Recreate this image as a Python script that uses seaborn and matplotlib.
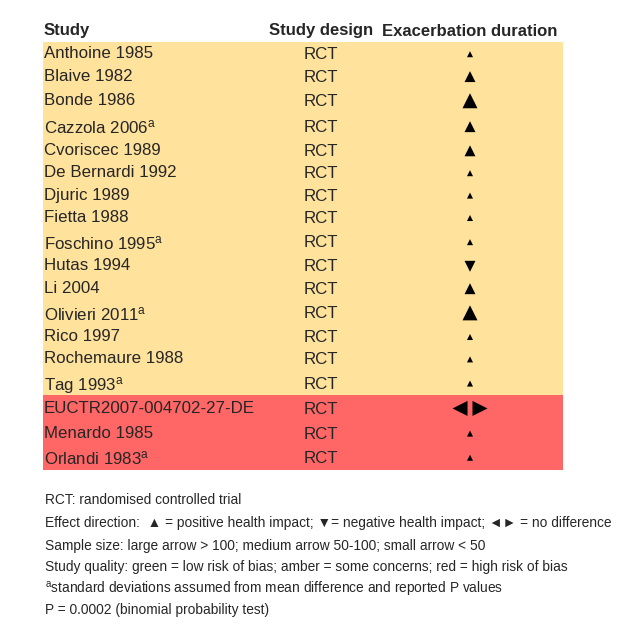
import numpy as np
import pandas as pd
import matplotlib
matplotlib.use("Agg")
import matplotlib.pyplot as plt
import seaborn as sns

# Effect direction plot data
studies = ["Anthoine 1985", "Blaive 1982", "Bonde 1986", "Cazzola 2006", "Cvoriscec 1989",
           "De Bernardi 1992", "Djuric 1989", "Fietta 1988", "Foschino 1995", "Hutas 1994",
           "Li 2004", "Olivieri 2011", "Rico 1997", "Rochemaure 1988", "Tag 1993",
           "EUCTR2007-004702-27-DE", "Menardo 1985", "Orlandi 1983"]
footnote = [0, 0, 0, 1, 0, 0, 0, 0, 1, 0, 0, 1, 0, 0, 1, 0, 0, 1]
design = ["RCT"] * 18
direction = ["up", "up", "up", "up", "up", "up", "up", "up", "up", "down",
             "up", "up", "up", "up", "up", "none", "up", "up"]
sample = ["small", "medium", "large", "medium", "medium", "small", "small", "small", "small",
          "medium", "medium", "large", "small", "small", "small", "large", "small", "small"]
quality = ["amber"] * 15 + ["red"] * 3

headers = ["Study", "Study design", "Exacerbation duration"]
notes = [
    "RCT: randomised controlled trial",
    "Effect direction:  \u25B2 = positive health impact; \u25BC= negative health impact; \u25C4\u25BA = no difference",
    "Sample size: large arrow > 100; medium arrow 50-100; small arrow < 50",
    "Study quality: green = low risk of bias; amber = some concerns; red = high risk of bias",
    "$^{a}$standard deviations assumed from mean difference and reported P values",
    "P = 0.0002 (binomial probability test)",
]

# layout (pixel coordinates)
table_top = 42
base_h, tall_extra = 22.4, 3.5
study_x, design_x, effect_x = 44, 321, 470
table_left, table_right = 43, 563
quality_colors = {"amber": "#FFE29C", "red": "#FF6666", "green": "#92D050"}
marker_map = {"up": "^", "down": "v", "left": "<", "right": ">"}
size_map = {"small": 19, "medium": 62, "large": 117}

sns.set_theme(style="white")
plt.rcParams["font.family"] = ["Liberation Sans", "DejaVu Sans"]
plt.rcParams["mathtext.default"] = "regular"

fig = plt.figure(figsize=(6.2, 6.29), dpi=100)
ax = fig.add_axes([0, 0, 1, 1])

# rows with a superscript or a large arrow are a little taller
tall = np.array([(f == 1) or (s == "large") for f, s in zip(footnote, sample)])
row_h = base_h + tall_extra * tall
edges = table_top + np.concatenate([[0], np.cumsum(row_h)])
row_y = (edges[:-1] + edges[1:]) / 2

# background bands for study quality
ax.barh(row_y, table_right - table_left, left=table_left, height=row_h,
        color=[quality_colors[q] for q in quality], linewidth=0, zorder=0)

# headers
ax.text(study_x, 31, headers[0], fontsize=12, fontweight="bold", va="center", ha="left")
ax.text(design_x, 31, headers[1], fontsize=12, fontweight="bold", va="center", ha="center")
ax.text(effect_x, 31, headers[2], fontsize=12, fontweight="bold", va="center", ha="center")

# row text (baseline aligned; mathtext lines sit a bit high, so nudge them)
for y, name, fn, d in zip(row_y, studies, footnote, design):
    label = name + ("$^{a}$" if fn else "")
    ax.text(study_x, y + 5 + 3 * fn, label, fontsize=12.2, va="baseline", ha="left")
    ax.text(design_x, y + 6, d, fontsize=12.2, va="baseline", ha="center")

# arrows
marks = []
for y, d, s in zip(row_y, direction, sample):
    if d == "none":
        marks.append({"x": effect_x - 10, "y": y, "shape": "left", "sample": s})
        marks.append({"x": effect_x + 10, "y": y, "shape": "right", "sample": s})
    else:
        marks.append({"x": effect_x, "y": y + 1, "shape": d, "sample": s})
marks = pd.DataFrame(marks)

sns.scatterplot(data=marks, x="x", y="y", style="shape", markers=marker_map,
                size="sample", sizes=size_map, color="black", linewidth=0,
                legend=False, ax=ax, zorder=3)
ax.set_xlim(0, 620)
ax.set_ylim(629, 0)
ax.axis("off")

# footnotes
note_y = [500, 523, 546, 567, 590, 610]
for y, t in zip(note_y, notes):
    ax.text(45, y + 4, t, fontsize=9.9, va="baseline", ha="left")

fig.savefig("out.png", dpi=100)
